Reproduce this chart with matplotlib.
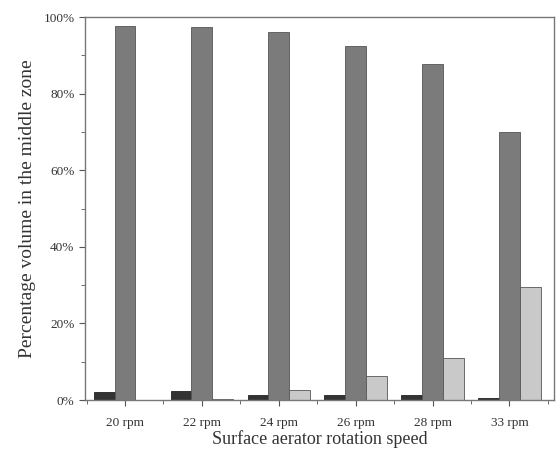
import numpy as np
import matplotlib.pyplot as plt
from matplotlib.ticker import MultipleLocator, FuncFormatter

plt.rcParams['font.family'] = ['Liberation Serif', 'DejaVu Serif']

speeds = ["20 rpm", "22 rpm", "24 rpm", "26 rpm", "28 rpm", "33 rpm"]
dark_vals = [2.2, 2.3, 1.3, 1.2, 1.2, 0.6]
mid_vals = [97.8, 97.4, 96.0, 92.5, 87.8, 70.0]
light_vals = [0.0, 0.3, 2.7, 6.3, 11.0, 29.4]

x = np.arange(len(speeds))
w = 0.27

fig = plt.figure(figsize=(5.57, 4.58), dpi=100)
ax = fig.add_axes([0.1526, 0.1266, 0.842, 0.836])

ax.bar(x - w, dark_vals, w, color="#333333", edgecolor="#222222", linewidth=0.6)
ax.bar(x, mid_vals, w, color="#7b7b7b", edgecolor="#555555", linewidth=0.6)
ax.bar(x + w, light_vals, w, color="#c9c9c9", edgecolor="#555555", linewidth=0.6)

ax.set_xlim(-0.52, 5.58)
ax.set_ylim(0, 100)
ax.set_xticks(x)
ax.set_xticklabels(speeds, fontsize=9.5, color="#333333")
ax.xaxis.set_minor_locator(MultipleLocator(1, offset=0.5))
ax.yaxis.set_major_locator(MultipleLocator(20))
ax.yaxis.set_minor_locator(MultipleLocator(10))
ax.yaxis.set_major_formatter(FuncFormatter(lambda v, p: "%d%%" % v))
ax.tick_params(axis="y", labelsize=9.5, labelcolor="#333333")
ax.tick_params(axis="x", pad=8)
ax.tick_params(which="both", direction="out", color="#555555")
ax.tick_params(which="major", length=4)
ax.tick_params(which="minor", length=3)

for s in ax.spines.values():
    s.set_color("#777777")
    s.set_linewidth(1.0)

ax.set_xlabel("Surface aerator rotation speed", fontsize=13, color="#333333", labelpad=1)
ax.set_ylabel("Percentage volume in the middle zone", fontsize=14, color="#333333")
ax.yaxis.set_label_coords(-0.105, 0.5)

fig.savefig("out.png", dpi=100)
